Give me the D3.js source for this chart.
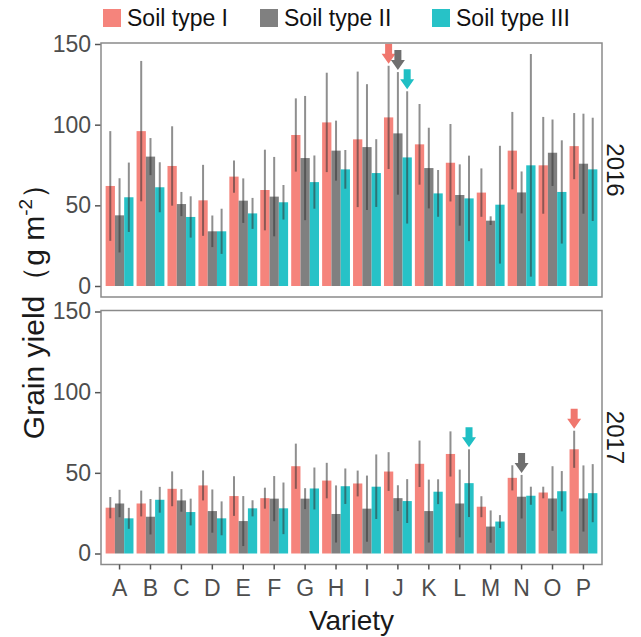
<!DOCTYPE html>
<html>
<head>
<meta charset="utf-8">
<script src="https://cdn.jsdelivr.net/npm/d3@7"></script>
<style>
  html, body { margin: 0; padding: 0; background: #fff; }
  svg { display: block; font-family: "Liberation Sans", Arial, Helvetica, sans-serif; }
</style>
</head>
<body>
<svg id="chart" width="641" height="637"></svg>
<script>
// Grain yield (g m-2) of 16 varieties on three soil types, 2016 and 2017 seasons
const varieties = ["A","B","C","D","E","F","G","H","I","J","K","L","M","N","O","P"];
const soils = ["Soil type I", "Soil type II", "Soil type III"];
const years = ["2016", "2017"];
const yTicks = [0, 50, 100, 150];

// 2016 means and standard deviations
const mean2016SoilI   = [62, 96, 74.4, 53.1, 67.8, 59.5, 93.6, 101.4, 90.9, 104.5, 87.8, 76.4, 57.9, 83.9, 74.8, 86.7];
const sd2016SoilI     = [34, 43.5, 24.6, 22, 10, 25, 22.7, 30.8, 42, 32, 25, 24, 15, 24, 30, 20.5];
const mean2016SoilII  = [43.8, 80.2, 50.8, 33.9, 52.9, 55.4, 79.3, 83.9, 86.1, 94.6, 73.1, 56.4, 40.5, 58, 82.6, 75.8];
const sd2016SoilII    = [23, 11.5, 7.5, 9.8, 13.8, 24.6, 38.5, 18.6, 39, 38, 25, 19, 2.7, 13, 20.6, 31];
const mean2016SoilIII = [55, 61.2, 42.8, 33.9, 45, 51.9, 64.4, 72.3, 70, 79.7, 57.4, 54.3, 50.4, 74.8, 58.3, 72.3];
const sd2016SoilIII   = [21.5, 15.5, 12.8, 14, 9.6, 10.7, 16.5, 12, 21, 41, 14.5, 26.5, 36.5, 69, 32, 32];

// 2017 means and standard deviations
const mean2017SoilI   = [28.4, 31, 40.1, 42.2, 35.6, 34.3, 54.1, 45.2, 43.4, 50.8, 55.6, 61.7, 29, 46.9, 37.8, 64.6];
const sd2017SoilI     = [6.6, 8, 10.8, 9.3, 12.3, 6.5, 14, 11, 8, 12, 14.4, 14, 6.5, 7.8, 3.6, 11.5];
const mean2017SoilII  = [31, 22.8, 32.9, 26.3, 20.1, 34, 34, 24.5, 27.8, 34.3, 26.3, 31, 16.7, 35.2, 34.1, 34.1];
const sd2017SoilII    = [8.5, 11, 7, 13.4, 15.5, 14, 6.5, 17.7, 20.5, 8, 19.5, 21, 10, 13.5, 20, 20.5];
const mean2017SoilIII = [21.8, 33.3, 25.7, 21.8, 28, 28, 40.3, 41.7, 41.4, 32.5, 38.3, 43.6, 19.8, 35.8, 38.6, 37.4];
const sd2017SoilIII   = [6.5, 8, 8.3, 10.5, 5, 16, 13, 11, 20, 13.6, 7.7, 21, 4, 5.6, 12.5, 18];

// Highest yield per soil type and year, flagged with an arrow
const flagged = [
  ["2016", "J", "Soil type I"], ["2016", "J", "Soil type II"], ["2016", "J", "Soil type III"],
  ["2017", "L", "Soil type III"], ["2017", "N", "Soil type II"], ["2017", "P", "Soil type I"]
];

const colors = ["#f5847c", "#808080", "#27c2c7"];
const arrowColors = ["#f0776e", "#6f6f6f", "#1fbfc4"];

const seriesByYear = {
  "2016": [[mean2016SoilI, sd2016SoilI], [mean2016SoilII, sd2016SoilII], [mean2016SoilIII, sd2016SoilIII]],
  "2017": [[mean2017SoilI, sd2017SoilI], [mean2017SoilII, sd2017SoilII], [mean2017SoilIII, sd2017SoilIII]]
};

const rows = [];
years.forEach(yr => {
  seriesByYear[yr].forEach(([means, sds], si) => {
    varieties.forEach((v, vi) => {
      rows.push({ year: yr, variety: v, soil: soils[si], mean: means[vi], sd: sds[vi] });
    });
  });
});

const svg = d3.select("#chart");
const color = d3.scaleOrdinal().domain(soils).range(colors);
const arrowColor = d3.scaleOrdinal().domain(soils).range(arrowColors);

const left = 101, right = 602, panelH = 254;
const panelTop = { "2016": 43, "2017": 310.5 };

const x = d3.scaleBand().domain(varieties).range([left, right]).paddingInner(0).paddingOuter(0.1);
const dodgeW = x.bandwidth() * 0.9;
const xs = d3.scaleBand().domain(soils).range([0, dodgeW]);
const xOff = (x.bandwidth() - dodgeW) / 2;

const textDark = "#1a1a1a";
const tickText = "#4d4d4d";

years.forEach(yr => {
  const top = panelTop[yr];
  const y = d3.scaleLinear().domain([0, 150]).range([top + 243, top + 1]);
  const data = rows.filter(d => d.year === yr);
  const g = svg.append("g");

  // bars
  g.selectAll("rect.bar").data(data).join("rect")
    .attr("class", "bar")
    .attr("x", d => x(d.variety) + xOff + xs(d.soil))
    .attr("width", xs.bandwidth())
    .attr("y", d => y(d.mean))
    .attr("height", d => y(0) - y(d.mean))
    .attr("fill", d => color(d.soil));

  // error bars (mean ± sd)
  g.selectAll("line.err").data(data).join("line")
    .attr("class", "err")
    .attr("x1", d => x(d.variety) + xOff + xs(d.soil) + xs.bandwidth() / 2)
    .attr("x2", d => x(d.variety) + xOff + xs(d.soil) + xs.bandwidth() / 2)
    .attr("y1", d => y(Math.max(0, d.mean - d.sd)))
    .attr("y2", d => y(d.mean + d.sd))
    .attr("stroke", "#333")
    .attr("stroke-opacity", 0.55)
    .attr("stroke-width", 2);

  // arrows over the flagged bars
  const marks = flagged.filter(f => f[0] === yr)
    .map(f => data.find(d => d.variety === f[1] && d.soil === f[2]));
  g.selectAll("path.arrow").data(marks).join("path")
    .attr("class", "arrow")
    .attr("transform", d => `translate(${x(d.variety) + xOff + xs(d.soil) + xs.bandwidth() / 2},${y(d.mean + d.sd) - 2})`)
    .attr("d", "M-3.5,-20 L3.5,-20 L3.5,-10 L7,-10 L0,0 L-7,-10 L-3.5,-10 Z")
    .attr("fill", d => arrowColor(d.soil));

  // y axis
  const ya = g.append("g")
    .attr("transform", `translate(${left},0)`)
    .call(d3.axisLeft(y).tickValues(yTicks).tickSize(6).tickPadding(4));
  ya.select(".domain").remove();
  ya.selectAll("line").attr("stroke", "#555").attr("stroke-width", 1.5);
  ya.selectAll("text").attr("fill", tickText).style("font-size", "23px");

  // panel border
  g.append("rect")
    .attr("x", left).attr("y", top)
    .attr("width", right - left).attr("height", panelH)
    .attr("fill", "none").attr("stroke", "#8a8a8a").attr("stroke-width", 1.5);

  // facet label
  g.append("text")
    .attr("transform", `translate(607,${top + panelH / 2}) rotate(90)`)
    .attr("text-anchor", "middle")
    .attr("fill", textDark)
    .style("font-size", "24px")
    .text(yr);

  if (yr === years[years.length - 1]) {
    const xa = g.append("g")
      .attr("transform", `translate(0,${top + panelH})`)
      .call(d3.axisBottom(x).tickSize(5).tickPadding(10));
    xa.select(".domain").remove();
    xa.selectAll("line").attr("stroke", "#555").attr("stroke-width", 1.5);
    xa.selectAll("text").attr("fill", tickText).style("font-size", "23px");
  }
});

// axis titles
svg.append("text")
  .attr("x", (left + right) / 2).attr("y", 630)
  .attr("text-anchor", "middle")
  .attr("fill", textDark)
  .style("font-size", "28px")
  .text("Variety");

const yTitle = svg.append("text")
  .attr("transform", "translate(44,304) rotate(-90)")
  .attr("text-anchor", "middle")
  .attr("fill", textDark)
  .style("font-size", "30px");
yTitle.append("tspan").text("Grain yield（g m");
yTitle.append("tspan").attr("dy", -12).style("font-size", "19px").text("-2");
yTitle.append("tspan").attr("dy", 12).text("）");

// legend
const legendX = [103, 260, 432];
const lg = svg.append("g").selectAll("g").data(soils).join("g")
  .attr("transform", (d, i) => `translate(${legendX[i]},9)`);
lg.append("rect").attr("width", 18).attr("height", 18).attr("fill", d => color(d));
lg.append("text").attr("x", 24).attr("y", 17)
  .attr("fill", "#111").style("font-size", "23px").text(d => d);
</script>
</body>
</html>
